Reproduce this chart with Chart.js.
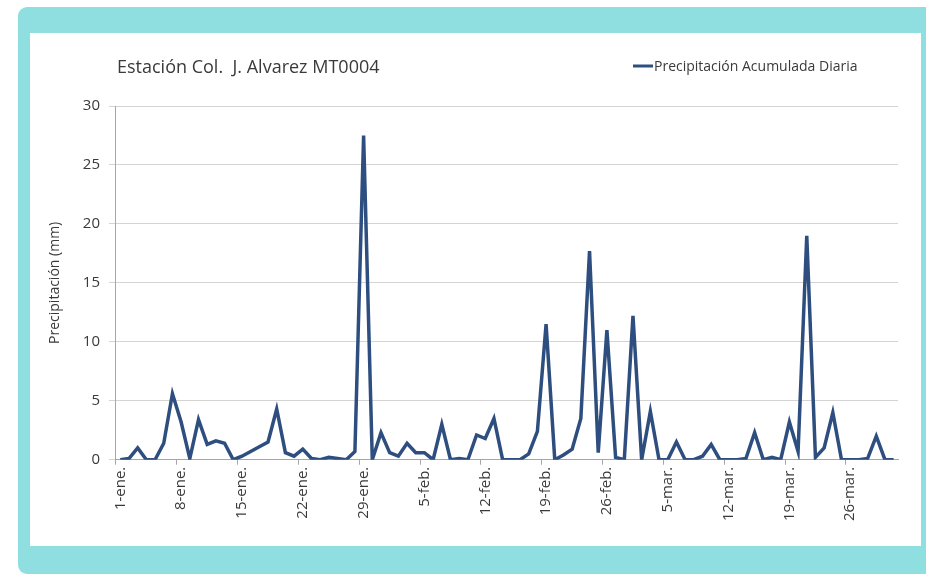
<!DOCTYPE html>
<html>
<head>
<meta charset="utf-8">
<script src="https://cdn.jsdelivr.net/npm/chart.js@4"></script>
<style>
  html, body { margin: 0; padding: 0; background: #fff; }
  body { width: 926px; height: 575px; position: relative; overflow: hidden; }
  #frame {
    position: absolute; left: 18px; top: 7px; width: 920px; height: 567px;
    background: #8fdfe0; border-radius: 9px;
  }
  #panel {
    position: absolute; left: 30px; top: 33px; width: 891px; height: 513px;
    background: #fff;
  }
</style>
</head>
<body>
<div id="frame"></div>
<div id="panel"><canvas id="rainChart" width="891" height="513"></canvas></div>
<script>
const titleText = "Estación Col.  J. Alvarez MT0004";
const seriesName = "Precipitación Acumulada Diaria";
const yTitle = "Precipitación (mm)";

const meses = ["ene", "feb", "mar"];
const diasPorMes = [31, 28, 31];

// precipitación diaria (mm), 1-ene a 31-mar
const eneValues = [0, 0.1, 1.0, 0, 0, 1.4, 5.6, 3.2, 0.1, 3.4, 1.3, 1.6, 1.4, 0, 0.3, 0.7,
  1.1, 1.5, 4.3, 0.6, 0.3, 0.9, 0.1, 0, 0.2, 0.1, 0, 0.7, 27.5, 0, 2.3];
const febValues = [0.6, 0.3, 1.4, 0.6, 0.6, 0, 3.0, 0, 0.1, 0, 2.1, 1.8, 3.5, 0, 0, 0,
  0.5, 2.4, 11.5, 0, 0.4, 0.9, 3.5, 17.7, 0.6, 11.0, 0.2, 0];
const marValues = [12.2, 0, 4.1, 0, 0, 1.5, 0, 0, 0.3, 1.3, 0, 0, 0, 0.1, 2.3, 0,
  0.2, 0, 3.2, 0.7, 19.0, 0.2, 1.0, 4.0, 0, 0, 0, 0.1, 2.0, 0, 0];

const labels = [];
meses.forEach((m, i) => {
  for (let d = 1; d <= diasPorMes[i]; d++) labels.push(d + "-" + m + ".");
});
const values = eneValues.concat(febValues, marValues);

const textColor = "#3a3a3a";
const lineColor = "#2d4e7e";

// title + legend drawn at fixed spots like the original
const headerPlugin = {
  id: "header",
  afterDraw(chart) {
    const ctx = chart.ctx;
    ctx.save();
    ctx.fillStyle = textColor;
    ctx.textBaseline = "middle";
    ctx.font = "18px 'Open Sans'";
    ctx.fillText(titleText, 87, 35);
    ctx.strokeStyle = lineColor;
    ctx.lineWidth = 3;
    ctx.beginPath();
    ctx.moveTo(603, 33);
    ctx.lineTo(623, 33);
    ctx.stroke();
    ctx.font = "14px 'Open Sans'";
    ctx.fillText(chart.data.datasets[0].label, 624, 34);
    ctx.restore();
  }
};

new Chart(document.getElementById("rainChart"), {
  type: "line",
  data: {
    labels: labels,
    datasets: [
      {
        label: seriesName,
        data: values,
        borderColor: lineColor,
        borderWidth: 3.5,
        pointRadius: 0,
        tension: 0,
        fill: false,
      },
    ],
  },
  options: {
    responsive: false,
    animation: false,
    layout: { padding: { left: 17, right: 23, top: 73, bottom: 23 } },
    plugins: {
      legend: { display: false },
      title: { display: false },
      tooltip: { enabled: false },
    },
    scales: {
      x: {
        offset: true,
        border: { display: true, color: "#a6a6a6", width: 1 },
        grid: {
          offset: true,
          drawOnChartArea: false,
          drawTicks: true,
          tickLength: 5,
          color: (c) => (c.index % 7 === 0 ? "#a6a6a6" : "rgba(0,0,0,0)"),
        },
        ticks: {
          autoSkip: false,
          minRotation: 90,
          maxRotation: 90,
          padding: 2,
          color: textColor,
          font: { family: "'Open Sans'", size: 15 },
          callback: function (v, i) {
            return i % 7 === 0 ? this.getLabelForValue(v) : "";
          },
        },
      },
      y: {
        min: 0,
        max: 30,
        border: { display: true, color: "#a6a6a6", width: 1 },
        grid: { color: "#d4d4d4", tickLength: 7 },
        ticks: {
          stepSize: 5,
          padding: 9,
          color: textColor,
          font: { family: "'Open Sans'", size: 15 },
        },
        title: {
          display: true,
          text: yTitle,
          color: textColor,
          font: { family: "'Open Sans'", size: 14 },
          padding: { top: 0, bottom: 10 },
        },
      },
    },
  },
  plugins: [headerPlugin],
});
</script>
</body>
</html>
